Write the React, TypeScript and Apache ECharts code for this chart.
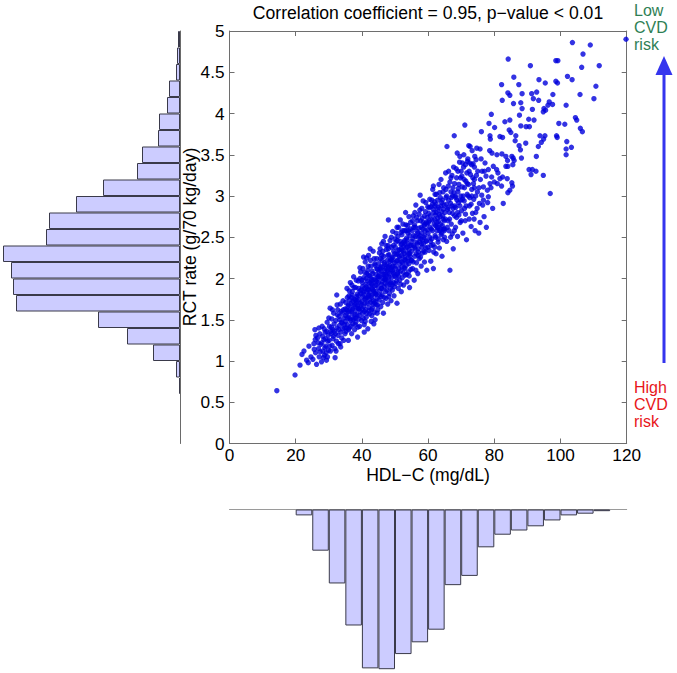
import React, { useEffect, useRef } from "react";
import * as echarts from "echarts";

const titleText = "Correlation coefficient = 0.95, p\u2212value < 0.01";
const xName = "HDL\u2212C (mg/dL)";
const yName = "RCT rate (g/70 kg/day)";
const lowText = "Low\nCVD\nrisk";
const highText = "High\nCVD\nrisk";

const xTicks = { min: 0, max: 120, interval: 20 };
const yTicks = { min: 0, max: 5, interval: 0.5 };

// RCT histogram (bin start, 0.2 wide)
const rctBinStarts = [0, 0.2, 0.4, 0.6, 0.8, 1.0, 1.2, 1.4, 1.6, 1.8, 2.0, 2.2, 2.4, 2.6, 2.8, 3.0, 3.2, 3.4, 3.6, 3.8, 4.0, 4.2, 4.4, 4.6, 4.8];
const rctCounts = [0, 0, 0, 1, 4, 27, 53, 82, 164, 167, 169, 177, 134, 131, 104, 77, 43, 38, 22, 21, 13, 11, 4, 3, 2];

// HDL-C histogram (bin start, 5 wide)
const hdlBinStarts = [0, 5, 10, 15, 20, 25, 30, 35, 40, 45, 50, 55, 60, 65, 70, 75, 80, 85, 90, 95, 100, 105, 110, 115];
const hdlCounts = [0, 0, 0, 0, 7, 49, 88, 138, 189, 190, 172, 158, 143, 90, 79, 45, 30, 25, 20, 13, 7, 5, 2, 0];

// scatter points [HDL-C, RCT rate]
const scatterTail = [
  [14.3, 0.64], [19.8, 0.83], [21.3, 0.95], [23.3, 1.01], [22.5, 1.12], [24.0, 1.18], [23.8, 0.98], [24.6, 1.05], [21.9, 1.08],
  [25.2, 1.02], [25.5, 1.21], [25.8, 1.38], [26.0, 1.10], [26.3, 0.96], [26.6, 1.28], [26.9, 1.15], [27.1, 1.05], [27.3, 1.33], [27.6, 1.20],
  [27.8, 0.99], [28.0, 1.42], [28.2, 1.12], [28.5, 1.26], [28.7, 1.07], [28.9, 1.35], [29.1, 1.18], [29.3, 1.01], [29.5, 1.47], [29.7, 1.24],
  [29.9, 1.13], [26.1, 1.31], [27.9, 1.22], [28.8, 1.16], [25.6, 1.14],
  [30.1, 1.25], [30.2, 1.42], [30.4, 1.64], [30.5, 1.12], [30.7, 1.33], [30.9, 1.51], [31.0, 1.19], [31.2, 1.38], [31.3, 1.27], [31.5, 1.58],
  [31.6, 1.45], [31.8, 1.15], [31.9, 1.04], [32.0, 1.33], [32.1, 1.49], [32.3, 1.24], [32.4, 1.80], [32.5, 1.40], [32.7, 1.62], [32.8, 1.31],
  [32.9, 1.21], [33.1, 1.54], [33.2, 1.43], [33.4, 1.21], [33.5, 1.69], [33.6, 1.35], [33.8, 1.47], [33.9, 1.28], [34.0, 1.58], [34.2, 1.39],
  [34.3, 1.73], [34.5, 1.25], [34.6, 1.52], [34.7, 1.44], [34.9, 1.63], [34.9, 1.33], [30.6, 1.36], [31.4, 1.30], [32.6, 1.56], [33.7, 1.60],
];
const scatterCoreA = [
  [35.0, 1.48], [35.1, 1.71], [35.2, 1.36], [35.4, 1.58], [35.5, 1.88], [35.6, 1.44], [35.8, 1.66], [35.9, 1.25], [36.0, 1.53], [36.1, 1.79],
  [36.2, 1.40], [36.4, 1.62], [36.5, 1.95], [36.6, 1.49], [36.7, 1.70], [36.9, 1.33], [37.0, 1.57], [37.1, 1.84], [37.2, 1.45], [37.4, 1.66],
  [37.5, 2.02], [37.6, 1.52], [37.7, 1.75], [37.8, 1.38], [38.0, 1.61], [38.1, 1.89], [38.2, 1.47], [38.3, 1.70], [38.5, 1.56], [38.6, 1.81],
  [38.7, 1.29], [38.8, 1.64], [38.9, 1.97], [39.0, 1.51], [39.1, 1.74], [39.3, 1.42], [39.4, 1.85], [39.5, 1.60], [39.6, 2.08], [39.8, 1.68],
  [39.9, 1.49], [35.3, 1.62], [35.7, 1.52], [36.3, 1.74], [36.8, 1.60], [37.3, 1.72], [37.9, 1.56], [38.4, 1.78], [39.2, 1.63], [39.7, 1.82],
  [36.0, 1.38], [37.0, 1.92], [38.0, 1.44], [39.0, 1.88], [38.6, 1.67],
  [40.0, 1.72], [40.1, 1.95], [40.2, 1.58], [40.3, 2.12], [40.4, 1.81], [40.5, 1.66], [40.6, 2.01], [40.7, 1.44], [40.8, 1.88], [40.9, 1.75],
  [41.0, 2.20], [41.1, 1.62], [41.2, 1.93], [41.3, 1.53], [41.4, 1.84], [41.5, 2.06], [41.6, 1.70], [41.7, 1.97], [41.8, 1.39], [41.9, 1.79],
  [42.0, 2.28], [42.1, 1.65], [42.2, 1.90], [42.3, 1.57], [42.4, 2.03], [42.5, 1.83], [42.6, 1.71], [42.7, 2.15], [42.8, 1.48], [42.9, 1.94],
  [43.0, 1.77], [43.1, 2.09], [43.2, 1.64], [43.3, 1.87], [43.4, 2.33], [43.5, 1.73], [43.6, 1.99], [43.7, 1.59], [43.8, 1.91], [43.9, 2.18],
  [44.0, 1.50], [44.1, 1.81], [44.2, 2.05], [44.3, 1.68], [44.4, 1.96], [44.5, 2.24], [44.6, 1.76], [44.7, 2.11], [44.8, 1.62], [44.9, 1.89],
  [40.3, 1.78], [40.8, 1.60], [41.3, 1.90], [41.8, 2.10], [42.3, 1.74], [42.8, 2.00], [43.3, 1.69], [43.8, 1.82], [44.3, 1.92], [44.8, 2.02],
  [41.0, 1.48], [42.0, 1.86], [43.0, 1.98], [44.0, 1.72], [44.6, 1.58], [40.5, 2.26], [42.5, 2.36], [43.6, 1.45], [41.6, 1.77], [44.2, 1.84],
  [45.0, 1.95], [45.1, 2.18], [45.2, 1.74], [45.3, 2.31], [45.4, 2.02], [45.5, 1.85], [45.6, 2.24], [45.7, 1.66], [45.8, 2.09], [45.9, 1.93],
  [46.0, 2.42], [46.1, 1.80], [46.2, 2.14], [46.3, 1.71], [46.4, 2.05], [46.5, 1.58], [46.6, 2.27], [46.7, 1.90], [46.8, 2.19], [46.9, 1.99],
  [47.0, 2.51], [47.1, 1.84], [47.2, 2.12], [47.3, 1.76], [47.4, 2.35], [47.5, 2.03], [47.6, 1.92], [47.7, 2.22], [47.8, 1.69], [47.9, 2.08],
  [48.0, 2.71], [48.1, 1.97], [48.2, 2.29], [48.3, 1.82], [48.4, 2.16], [48.5, 2.46], [48.6, 1.88], [48.7, 2.11], [48.8, 1.73], [48.9, 2.38],
  [49.0, 2.01], [49.1, 2.25], [49.2, 1.86], [49.3, 2.57], [49.4, 2.07], [49.5, 1.95], [49.6, 2.33], [49.7, 1.79], [49.8, 2.19], [49.9, 2.03],
  [45.2, 2.08], [45.8, 1.78], [46.3, 2.33], [46.9, 2.10], [47.3, 1.98], [47.9, 2.40], [48.4, 1.93], [48.9, 2.13], [49.4, 2.26], [49.8, 1.90],
  [45.5, 2.12], [46.1, 1.96], [46.7, 2.05], [47.6, 2.16], [48.2, 2.02], [48.7, 2.23], [49.2, 2.10], [46.0, 1.88], [47.0, 2.00], [48.0, 2.14],
];
const scatterCoreB = [
  [50.0, 2.15], [50.1, 2.38], [50.2, 1.94], [50.3, 2.55], [50.4, 2.21], [50.6, 1.70], [50.7, 2.46], [50.8, 2.06], [50.9, 2.30], [51.0, 1.88],
  [51.1, 2.62], [51.2, 2.12], [51.3, 2.35], [51.4, 1.98], [51.5, 2.24], [51.6, 2.71], [51.7, 2.09], [51.8, 2.41], [51.9, 1.84], [52.0, 2.28],
  [52.1, 2.53], [52.2, 2.01], [52.3, 2.19], [52.4, 2.66], [52.5, 2.33], [52.6, 1.92], [52.7, 2.44], [52.8, 2.13], [52.9, 2.58], [53.0, 2.26],
  [53.1, 2.04], [53.2, 2.80], [53.3, 2.37], [53.4, 2.16], [53.5, 2.49], [53.6, 1.96], [53.7, 2.31], [53.8, 2.64], [53.9, 2.21], [54.0, 2.42],
  [54.1, 2.08], [54.2, 2.75], [54.3, 2.35], [54.4, 1.89], [54.5, 2.52], [54.6, 2.27], [54.7, 2.60], [54.8, 2.11], [54.9, 2.40], [50.5, 2.29],
  [51.3, 2.18], [52.1, 2.34], [52.9, 2.23], [53.7, 2.47], [54.5, 2.30], [50.9, 2.08], [51.8, 2.56], [52.6, 2.39], [53.4, 2.58], [54.2, 2.18],
  [50.3, 2.02], [52.0, 2.20], [53.0, 2.42], [54.0, 2.25],
  [55.0, 2.33], [55.2, 2.58], [55.3, 2.12], [55.5, 2.76], [55.6, 2.40], [55.8, 1.98], [55.9, 2.65], [56.0, 2.27], [56.2, 2.51], [56.3, 2.89],
  [56.5, 2.19], [56.6, 2.44], [56.8, 2.70], [56.9, 2.06], [57.0, 2.36], [57.2, 2.61], [57.3, 2.24], [57.5, 2.83], [57.6, 3.01], [57.8, 2.48],
  [57.9, 2.15], [58.0, 2.55], [58.2, 2.73], [58.3, 2.31], [58.5, 2.94], [58.6, 2.42], [58.8, 2.64], [58.9, 2.20], [59.0, 2.52], [59.2, 2.81],
  [59.3, 2.37], [59.5, 2.68], [59.6, 2.10], [59.8, 2.59], [59.9, 2.87], [55.4, 2.48], [56.1, 2.36], [56.7, 2.57], [57.4, 2.44], [58.1, 2.38],
  [58.7, 2.50], [59.4, 2.45], [55.7, 2.62], [56.4, 2.30], [57.1, 2.50], [57.7, 2.70], [58.4, 2.60], [59.1, 2.32], [59.7, 2.74], [55.1, 2.22],
  [56.0, 2.80], [57.0, 2.28], [58.0, 2.42], [59.0, 2.66],
  [60.0, 2.55], [60.2, 2.79], [60.3, 2.34], [60.5, 2.96], [60.6, 2.62], [60.8, 2.21], [60.9, 2.87], [61.1, 2.48], [61.2, 2.71], [61.4, 3.08],
  [61.5, 2.41], [61.6, 2.12], [61.8, 2.66], [61.9, 2.93], [62.1, 2.52], [62.2, 2.77], [62.4, 2.30], [62.5, 3.02], [62.7, 2.58], [62.8, 2.84],
  [63.0, 2.44], [63.1, 2.69], [63.3, 3.14], [63.4, 2.37], [63.6, 2.75], [63.7, 2.98], [63.9, 2.53], [64.0, 2.81], [64.2, 2.27], [64.3, 2.64],
  [64.5, 3.05], [64.6, 2.47], [64.8, 2.89], [64.9, 2.70], [60.4, 2.70], [61.0, 2.60], [61.7, 2.80], [62.3, 2.64], [62.9, 2.73], [63.5, 2.58],
  [64.1, 2.92], [64.7, 2.60], [60.7, 2.45], [61.3, 2.90], [62.0, 2.38], [62.6, 2.68], [63.2, 2.86], [63.8, 2.66], [64.4, 2.76], [65.0, 2.50],
];
const scatterCoreC = [
  [28.1, 1.30], [28.4, 1.04], [28.6, 1.39], [29.0, 1.27], [29.2, 1.10], [29.4, 1.36], [29.6, 1.05], [29.8, 1.31], [30.0, 1.52], [30.3, 1.18],
  [30.8, 1.41], [31.1, 1.62], [31.7, 1.36], [32.2, 1.12], [32.5, 1.68], [33.0, 1.38], [33.3, 1.50], [33.6, 1.17], [34.1, 1.46], [34.4, 1.62],
  [34.8, 1.40], [27.4, 1.11], [26.8, 1.22], [27.0, 1.40], [25.9, 1.26],
  [35.1, 1.55], [35.4, 1.40], [35.6, 1.77], [35.9, 1.60], [36.2, 1.85], [36.4, 1.51], [36.7, 1.42], [36.9, 1.77], [37.2, 1.63], [37.4, 1.50],
  [37.6, 1.89], [37.9, 1.68], [38.1, 1.52], [38.3, 1.98], [38.5, 1.73], [38.8, 1.41], [39.0, 1.79], [39.2, 1.55], [39.4, 2.00], [39.6, 1.70],
  [39.9, 1.86], [40.1, 1.63], [40.2, 1.90], [40.4, 1.52], [40.6, 1.84], [40.9, 2.07], [41.1, 1.76], [41.3, 2.00], [41.5, 1.58], [41.7, 1.87],
  [41.9, 2.15], [42.1, 1.80], [42.2, 1.61], [42.4, 1.95], [42.6, 2.22], [42.8, 1.79], [43.0, 1.55], [43.1, 1.93], [43.3, 2.06], [43.5, 1.85],
  [43.7, 2.24], [43.9, 1.70], [44.1, 1.98], [44.3, 1.81], [44.5, 2.12], [44.7, 1.68], [44.9, 2.00], [36.0, 1.68], [37.0, 1.80], [38.0, 1.74],
  [39.0, 1.64], [40.0, 1.98], [41.0, 1.70], [42.0, 2.04], [43.0, 1.88], [44.0, 2.16], [41.4, 2.25], [39.4, 2.13], [40.7, 1.35], [42.9, 1.62],
  [45.1, 2.03], [45.3, 1.80], [45.5, 2.36], [45.7, 2.14], [45.9, 1.88], [46.1, 2.22], [46.3, 2.00], [46.5, 2.45], [46.7, 1.77], [46.9, 2.17],
  [47.1, 2.05], [47.3, 2.40], [47.5, 1.86], [47.7, 2.10], [47.9, 2.28], [48.1, 1.78], [48.3, 2.06], [48.5, 2.21], [48.7, 1.95], [48.9, 2.50],
  [49.1, 1.92], [49.3, 2.15], [49.5, 2.40], [49.7, 2.06], [49.9, 2.30], [50.1, 2.12], [50.3, 2.44], [50.5, 1.97], [50.7, 2.22], [50.9, 2.51],
  [51.1, 2.03], [51.3, 2.27], [51.5, 2.45], [51.7, 1.93], [51.9, 2.36], [52.1, 2.14], [52.3, 2.58], [52.5, 2.07], [52.7, 2.30], [52.9, 2.46],
  [53.1, 2.22], [53.3, 2.65], [53.5, 2.05], [53.7, 2.38], [53.9, 2.55], [54.1, 2.30], [54.3, 2.03], [54.5, 2.40], [54.7, 2.68], [54.9, 2.22],
  [46.0, 2.28], [47.0, 1.94], [48.0, 2.36], [49.0, 2.22], [50.0, 2.48], [51.0, 2.34], [52.0, 2.42], [53.0, 2.12], [54.0, 2.58], [50.6, 2.62],
  [55.1, 2.45], [55.3, 2.70], [55.5, 2.20], [55.7, 2.52], [55.9, 2.38], [56.1, 2.62], [56.3, 2.10], [56.5, 2.74], [56.7, 2.42], [56.9, 2.55],
  [57.1, 2.32], [57.3, 2.78], [57.5, 2.52], [57.7, 2.26], [57.9, 2.62], [58.1, 2.85], [58.3, 2.47], [58.5, 2.68], [58.7, 2.33], [58.9, 2.76],
  [59.1, 2.58], [59.3, 2.92], [59.5, 2.46], [59.7, 2.66], [59.9, 2.38], [60.1, 2.68], [60.3, 2.86], [60.5, 2.50], [60.7, 2.76], [60.9, 2.40],
  [61.1, 2.95], [61.3, 2.58], [61.5, 2.84], [61.7, 2.32], [61.9, 2.72], [62.1, 3.02], [62.3, 2.50], [62.5, 2.80], [62.7, 2.62], [62.9, 2.95],
  [63.1, 2.48], [63.3, 2.78], [63.5, 3.04], [63.7, 2.60], [63.9, 2.88], [64.1, 2.55], [64.3, 2.95], [64.5, 2.72], [64.7, 3.10], [64.9, 2.58],
  [65.1, 2.80], [65.4, 3.08], [65.8, 2.62], [66.2, 2.95], [66.5, 2.72], [66.9, 3.22], [67.2, 2.88], [67.5, 3.10], [67.9, 2.58], [68.2, 3.00],
  [68.6, 3.22], [68.9, 2.80], [69.3, 3.14], [69.6, 2.88], [70.0, 3.30], [70.4, 2.96], [70.9, 3.20], [71.3, 2.78], [71.7, 3.28], [72.1, 3.00],
  [72.6, 3.40], [73.0, 2.90], [73.5, 3.22], [74.0, 3.35], [74.4, 2.80], [67.0, 2.98], [68.0, 2.76], [69.0, 3.30], [70.0, 2.70], [71.0, 3.10],
  [62.4, 2.90], [63.0, 2.62], [63.9, 3.20], [64.6, 2.84], [65.6, 3.00], [66.2, 3.30], [66.8, 2.50], [67.7, 3.35], [68.3, 2.86], [69.0, 3.05],
  [69.8, 2.95], [70.4, 3.40], [71.0, 2.85], [71.8, 3.15], [72.4, 2.72], [73.2, 3.00], [74.0, 3.10], [74.6, 3.25], [75.4, 3.10], [76.3, 3.30],
  [61.6, 3.12], [62.0, 2.88], [65.0, 2.60], [66.0, 2.86], [67.4, 3.00],
];
const scatterUpper = [
  [65.2, 2.72], [65.4, 2.98], [65.6, 2.45], [65.7, 3.60], [65.9, 2.84], [66.1, 3.12], [66.3, 2.58], [66.6, 3.17], [66.6, 2.10], [66.8, 2.91],
  [67.0, 2.66], [67.2, 3.25], [67.4, 2.79], [67.6, 2.36], [67.8, 3.04], [67.9, 3.73], [68.1, 2.88], [68.3, 2.62], [68.5, 3.33], [68.7, 2.95],
  [68.9, 2.51], [69.1, 3.09], [69.3, 2.77], [69.5, 3.41], [69.7, 2.68], [69.9, 3.00], [65.5, 2.90], [66.0, 2.70], [66.9, 3.05], [67.5, 2.85],
  [68.0, 3.15], [68.6, 2.74], [69.2, 2.92], [69.8, 3.22], [65.3, 3.28], [66.4, 2.80], [67.3, 2.54], [68.4, 2.98],
  [70.1, 2.82], [70.3, 3.11], [70.5, 2.55], [70.7, 3.35], [70.9, 2.94], [71.1, 3.86], [71.2, 2.70], [71.4, 3.18], [71.6, 2.47], [71.8, 3.02],
  [72.0, 3.45], [72.3, 3.61], [72.5, 2.88], [72.7, 3.60], [72.8, 3.26], [73.0, 2.63], [73.2, 3.08], [73.4, 2.79], [73.6, 3.39], [73.8, 2.96],
  [74.0, 3.20], [74.2, 2.58], [74.4, 3.00], [74.7, 3.58], [74.8, 2.85], [75.0, 3.30], [70.6, 3.00], [71.5, 2.88], [72.2, 3.14], [73.1, 3.38],
  [73.9, 2.72], [74.5, 3.44], [70.2, 3.24], [72.6, 2.98], [70.8, 3.50], [71.9, 3.42], [73.3, 3.55], [74.1, 3.48], [72.4, 3.30], [71.3, 3.38],
  [69.6, 3.48], [68.8, 3.52], [73.7, 3.15], [74.9, 3.05],
  [75.7, 2.68], [75.5, 2.91], [76.5, 2.89], [76.7, 2.95], [76.2, 3.01], [78.2, 2.99], [77.9, 3.07], [76.7, 3.11], [78.7, 3.15], [80.0, 3.17],
  [79.2, 3.23], [77.5, 3.24], [78.2, 3.32], [79.7, 3.36], [78.6, 3.55], [79.3, 3.52], [75.7, 3.57], [76.1, 3.78], [78.7, 3.73], [78.8, 3.69],
  [78.4, 3.88], [79.1, 3.99], [79.0, 3.10], [75.3, 2.55], [76.9, 2.75], [77.6, 2.62], [79.5, 2.85], [75.8, 3.20], [77.2, 3.40], [78.0, 2.92],
  [77.0, 3.30], [76.0, 3.45],
];
const scatterSparse = [
  [103.6, 4.86], [109.0, 4.83], [119.8, 4.90], [106.8, 4.72], [84.2, 4.66], [90.9, 4.58], [98.6, 4.64], [99.2, 4.64], [111.7, 4.58], [106.4, 4.56],
  [85.9, 4.44], [102.1, 4.45], [103.5, 4.41], [93.5, 4.41], [98.6, 4.39], [99.1, 4.37], [82.2, 4.35], [87.4, 4.35], [110.7, 4.33], [95.4, 4.37],
  [84.1, 4.25], [84.7, 4.22], [88.4, 4.24], [91.3, 4.24], [92.8, 4.26], [105.9, 4.23], [110.1, 4.18], [82.4, 4.16], [91.8, 4.18], [93.4, 4.16],
  [97.7, 4.23], [96.6, 4.14], [97.6, 4.11], [85.8, 4.12], [88.0, 4.13], [101.7, 4.10], [95.0, 4.06], [95.5, 4.04], [88.4, 4.06], [91.5, 4.05],
  [83.2, 3.90], [84.7, 3.92], [87.6, 3.98], [90.4, 3.93], [92.0, 3.92], [89.6, 3.84], [90.6, 3.84], [88.0, 3.85], [94.8, 4.02], [96.2, 4.10],
  [99.5, 3.88], [101.3, 3.87], [104.5, 3.95], [104.9, 3.92], [106.0, 3.82], [106.6, 3.78], [80.1, 3.83], [81.7, 3.72], [82.5, 3.71], [84.5, 3.80],
  [85.0, 3.77], [86.5, 3.73], [86.3, 3.67], [87.5, 3.61], [87.9, 3.56], [89.5, 3.64], [93.8, 3.73], [95.3, 3.73], [94.9, 3.69], [94.2, 3.65],
  [93.3, 3.60], [98.8, 3.73], [99.0, 3.71], [101.9, 3.66], [101.7, 3.57], [103.3, 3.59], [101.7, 3.50], [92.7, 3.48], [90.5, 3.32], [91.5, 3.32],
  [91.1, 3.26], [92.6, 3.30], [94.8, 3.25], [96.9, 3.03], [82.7, 2.91], [80.8, 3.50], [82.3, 3.51], [83.5, 3.48], [84.0, 3.43], [85.3, 3.48],
  [85.7, 3.46], [86.0, 3.43], [85.6, 3.38], [88.2, 3.46], [83.5, 3.36], [84.1, 3.36], [82.5, 3.23], [83.9, 3.21], [85.3, 3.16], [85.5, 3.12],
  [84.1, 3.04], [84.7, 3.07], [80.7, 3.32], [81.1, 3.28], [81.7, 3.21], [80.9, 3.15], [82.2, 3.12],
];

const FONT = "'Liberation Sans', Arial, Helvetica, sans-serif";
const AXIS_COLOR = "#6e6e6e";
const DOT_COLOR = "#0000dc";
const BAR_FILL = "#ccccff";
const BAR_EDGE = "#3a3a4a";

export default function App() {
  const ref = useRef<HTMLDivElement>(null);

  useEffect(() => {
    if (!ref.current) return;
    const chart = echarts.init(ref.current, null, { renderer: "svg" });

    const points = [...scatterTail, ...scatterCoreA, ...scatterCoreB, ...scatterCoreC, ...scatterUpper, ...scatterSparse];
    const rctCats = rctBinStarts.map((s) => String(s));
    const hdlCats = hdlBinStarts.map((s) => String(s));
    const noZero = (v: number) => (v === 0 ? "-" : v);

    const frameAxis = {
      axisLine: { show: true, onZero: false, lineStyle: { color: AXIS_COLOR, width: 1 } },
      axisTick: { show: true, inside: true, length: 5, lineStyle: { color: AXIS_COLOR } },
      splitLine: { show: false },
    };

    const option: any = {
      animation: false,
      backgroundColor: "#ffffff",
      textStyle: { fontFamily: FONT },
      grid: [
        { left: 229.5, top: 31, width: 397.2, height: 412.5 },
        { left: 0, top: 31, width: 180, height: 412.5 },
        { left: 229.5, top: 509.5, width: 397.2, height: 159.7 },
      ],
      xAxis: [
        {
          gridIndex: 0, type: "value", ...xTicks, position: "bottom", ...frameAxis,
          axisLabel: { color: "#000", fontSize: 17.2, fontFamily: FONT, margin: 3 },
        },
        {
          gridIndex: 0, type: "value", ...xTicks, position: "top", ...frameAxis,
          axisLabel: { show: false },
        },
        { gridIndex: 1, type: "value", inverse: true, min: 0, max: 180, show: false },
        {
          gridIndex: 2, type: "category", data: hdlCats, position: "top",
          axisLine: { show: true, onZero: false, lineStyle: { color: "#9a9a9a" } },
          axisTick: { show: false }, axisLabel: { show: false }, splitLine: { show: false },
        },
      ],
      yAxis: [
        {
          gridIndex: 0, type: "value", ...yTicks, position: "left", ...frameAxis,
          axisLabel: { color: "#000", fontSize: 17.2, fontFamily: FONT, margin: 5 },
        },
        {
          gridIndex: 0, type: "value", ...yTicks, position: "right", ...frameAxis,
          axisLabel: { show: false },
        },
        {
          gridIndex: 1, type: "category", data: rctCats, position: "right",
          axisLine: { show: true, onZero: false, lineStyle: { color: "#6a6a6a" } },
          axisTick: { show: false }, axisLabel: { show: false }, splitLine: { show: false },
        },
        { gridIndex: 2, type: "value", inverse: true, min: 0, max: 190, show: false },
      ],
      series: [
        {
          type: "scatter", xAxisIndex: 0, yAxisIndex: 0, data: points,
          symbol: "circle", symbolSize: 5.4, itemStyle: { color: DOT_COLOR },
          silent: true,
        },
        {
          type: "bar", xAxisIndex: 2, yAxisIndex: 2, data: rctCounts.map(noZero),
          barCategoryGap: "0%", barGap: "0%",
          itemStyle: { color: BAR_FILL, borderColor: BAR_EDGE, borderWidth: 1 },
          silent: true,
        },
        {
          type: "bar", xAxisIndex: 3, yAxisIndex: 3, data: hdlCounts.map(noZero),
          barCategoryGap: "0%", barGap: "0%",
          itemStyle: { color: BAR_FILL, borderColor: BAR_EDGE, borderWidth: 1 },
          silent: true,
        },
      ],
      graphic: [
        {
          type: "text", x: 428, y: 13,
          style: { text: titleText, fontSize: 17.6, fontFamily: FONT, fill: "#000", align: "center", verticalAlign: "middle" },
        },
        {
          type: "text", x: 428, y: 475,
          style: { text: xName, fontSize: 17.6, fontFamily: FONT, fill: "#000", align: "center", verticalAlign: "middle" },
        },
        {
          type: "text", x: 190, y: 237, rotation: Math.PI / 2,
          style: { text: yName, fontSize: 17.6, fontFamily: FONT, fill: "#000", align: "center", verticalAlign: "middle" },
        },
        {
          type: "text", x: 634, y: 2,
          style: { text: lowText, fontSize: 16, lineHeight: 17, fontFamily: FONT, fill: "#2f7f55", align: "left", verticalAlign: "top" },
        },
        {
          type: "text", x: 634, y: 379,
          style: { text: highText, fontSize: 16, lineHeight: 17, fontFamily: FONT, fill: "#e8161a", align: "left", verticalAlign: "top" },
        },
        {
          type: "line", shape: { x1: 664, y1: 363, x2: 664, y2: 70 },
          style: { stroke: "#3535ee", lineWidth: 3 },
        },
        {
          type: "polygon", shape: { points: [[664, 56], [655.5, 75], [672.5, 75]] },
          style: { fill: "#3535ee" },
        },
      ],
    };

    chart.setOption(option);
    return () => chart.dispose();
  }, []);

  return (
    <div
      ref={ref}
      style={{ position: "absolute", left: 0, top: 0, width: 677, height: 673, background: "#fff" }}
    />
  );
}
